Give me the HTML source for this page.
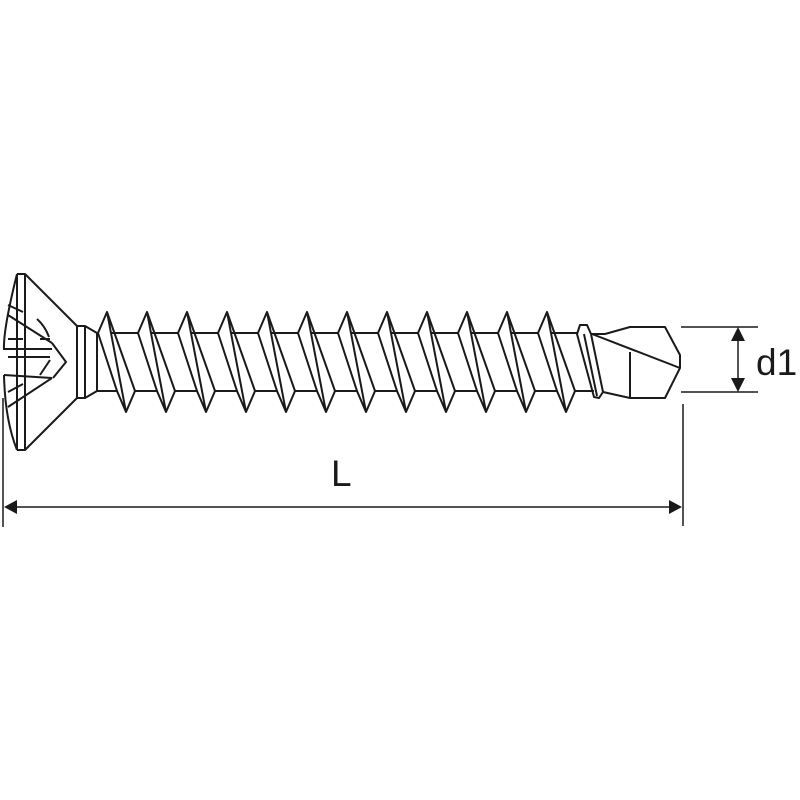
<!DOCTYPE html>
<html><head><meta charset="utf-8"><style>html,body{margin:0;padding:0;background:#fff}svg{display:block}</style></head>
<body>
<svg width="800" height="800" viewBox="0 0 800 800" xmlns="http://www.w3.org/2000/svg">
<g fill="none" stroke="#1a1a1a" stroke-width="2" stroke-linejoin="round">
<path d="M17,274 Q3,330 4,350"/>
<path d="M4,375 Q5,420 17,450"/>
<path d="M17,274 L25,274 L77,326 L77,398 L25,450 L17,450"/>
<line x1="17" y1="274" x2="17" y2="450"/>
<line x1="25" y1="274" x2="25" y2="450"/>
<path d="M77,326 L85,326 L85,398 L77,398"/>
<path d="M85,326 L97,333 M85,398 L97,391"/>
<line x1="97" y1="333" x2="97" y2="391"/>
<path d="M8,305 L23,312 M8,315 L52,343 M37,319 Q45,326 49,337 M52,343 L66,362 L53,378"/>
<path d="M8,339 L23,339 M40,339 L50,339 M4,349 L52,349 M8,357 L50,357 M50,360 L40,375 M4,375 L52,378 M8,392 L23,384 M8,407 L52,378"/>
<path d="M591,334 L605,334 L630,327 L665,327 L680,355 L680,368 L665,398 L630,398 L603,392"/>
<line x1="630" y1="352" x2="630" y2="398"/>
<line x1="592" y1="334" x2="680" y2="368"/>
<path d="M577,334 L580,325 L587,325 L591,334 L603,392 L599,398 L594,397 Z"/>
<line x1="584" y1="334" x2="597" y2="396"/>
<line x1="681" y1="327" x2="758" y2="327" stroke-width="1.5"/>
<line x1="681" y1="392" x2="758" y2="392" stroke-width="1.5"/>
<line x1="738" y1="340" x2="738" y2="380" stroke-width="1.5"/>
<line x1="683" y1="404" x2="683" y2="526" stroke-width="1.5"/>
<line x1="3" y1="398" x2="3" y2="527" stroke-width="1.5"/>
<line x1="15" y1="507" x2="670" y2="507" stroke-width="1.5"/>
</g>
<g fill="#1a1a1a">
<polygon points="738,327 731,341 745,341"/>
<polygon points="738,392 731,378 745,378"/>
<polygon points="4,507 17,500 17,514"/>
<polygon points="682,507 669,500 669,514"/>
</g>
<g fill="none" stroke="#1a1a1a" stroke-width="2" stroke-linejoin="round">
<path d="M107,312 L98,333 L117,391 L126,412 L135,391 Z M107,312 L126,412
M147,312 L138,333 L157,391 L166,412 L175,391 Z M147,312 L166,412
M187,312 L178,333 L197,391 L206,412 L215,391 Z M187,312 L206,412
M227,312 L218,333 L237,391 L246,412 L255,391 Z M227,312 L246,412
M267,312 L258,333 L277,391 L286,412 L295,391 Z M267,312 L286,412
M307,312 L298,333 L317,391 L326,412 L335,391 Z M307,312 L326,412
M347,312 L338,333 L357,391 L366,412 L375,391 Z M347,312 L366,412
M387,312 L378,333 L397,391 L406,412 L415,391 Z M387,312 L406,412
M427,312 L418,333 L437,391 L446,412 L455,391 Z M427,312 L446,412
M467,312 L458,333 L477,391 L486,412 L495,391 Z M467,312 L486,412
M507,312 L498,333 L517,391 L526,412 L535,391 Z M507,312 L526,412
M547,312 L538,333 L557,391 L566,412 L575,391 Z M547,312 L566,412"/>
<path d="M111,333 L138,333 M151,333 L178,333 M191,333 L218,333 M231,333 L258,333 M271,333 L298,333 M311,333 L338,333 M351,333 L378,333 M391,333 L418,333 M431,333 L458,333 M471,333 L498,333 M511,333 L538,333 M551,333 L577,333"/>
<path d="M97,391 L117,391 M135,391 L157,391 M175,391 L197,391 M215,391 L237,391 M255,391 L277,391 M295,391 L317,391 M335,391 L357,391 M375,391 L397,391 M415,391 L437,391 M455,391 L477,391 M495,391 L517,391 M535,391 L557,391 M575,391 L594,391"/>
</g>
<text x="756" y="375" font-family="Liberation Sans, sans-serif" font-size="37" fill="#1a1a1a">d1</text>
<text x="331" y="486" font-family="Liberation Sans, sans-serif" font-size="37" fill="#1a1a1a">L</text>
</svg>
</body></html>
